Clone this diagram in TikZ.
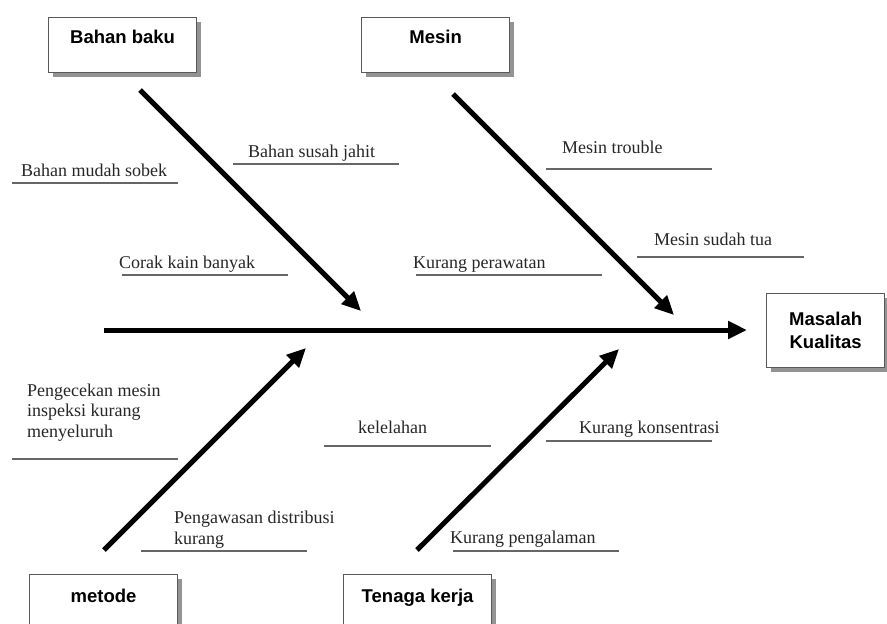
\documentclass[tikz,border=0pt]{standalone}
\usepackage{fontspec}
\setmainfont{Liberation Serif}
\setsansfont{Liberation Sans}
\usepackage{tikz}
\usetikzlibrary{arrows.meta,positioning,shadows}

\begin{document}
\begin{tikzpicture}[
  x=1pt, y=-1pt,
  >={Triangle[length=19pt,width=17pt]},
  causebox/.style={draw=black!65, line width=1.2pt, fill=white, anchor=north west,
    inner xsep=0pt, inner ysep=13pt, text height=13pt, text depth=16pt,
    minimum width=148pt, align=center, font=\sffamily\bfseries\fontsize{18.5}{22}\selectfont,
    drop shadow={shadow xshift=4pt, shadow yshift=-4pt, fill=gray!85, opacity=1}},
  lowbox/.style={causebox, inner ysep=15pt, text depth=17pt},
  effectbox/.style={draw=black!65, line width=1.2pt, fill=white, anchor=north west,
    minimum width=118pt, minimum height=74pt, align=center, inner sep=0pt,
    font=\sffamily\bfseries\fontsize{18.5}{23}\selectfont,
    drop shadow={shadow xshift=4pt, shadow yshift=-4pt, fill=gray!85, opacity=1}},
  bone/.style={->, line width=5pt},
  cue/.style={anchor=base west, inner sep=0pt, align=left, text=black!85,
    font=\fontsize{18}{20.5}\selectfont},
  cueline/.style={draw=black!60, line width=1.5pt}
]
\clip (0,0) rectangle (887,624);

% categories and effect
\node[causebox] (bahan) at (48,17) {Bahan baku};
\node[causebox] (mesin) at (361,17) {Mesin};
\node[lowbox] (metode) at (29,574) {metode};
\node[lowbox] (tenaga) at (343,574) {Tenaga kerja};
\node[effectbox] (masalah) at (766,293) {Masalah\\Kualitas};

% bones
\coordinate (spineA) at (104,330);
\coordinate (spineB) at (747,330);
\coordinate (bahanA) at (140,90);
\coordinate (bahanB) at (361,311);
\coordinate (mesinA) at (453,94);
\coordinate (mesinB) at (674,315);
\coordinate (metodeA) at (104,550);
\coordinate (metodeB) at (306,348);
\coordinate (tenagaA) at (417,550);
\coordinate (tenagaB) at (619,349);

\draw[bone] (spineA) -- (spineB);
\draw[bone] (bahanA) -- (bahanB);
\draw[bone] (mesinA) -- (mesinB);
\draw[bone] (metodeA) -- (metodeB);
\draw[bone] (tenagaA) -- (tenagaB);

% causes
\node[cue] (sobek) at (21,176) {Bahan mudah sobek};
\draw[cueline] (12,183) -- (178,183);
\node[cue] (jahit) at (248,157) {Bahan susah jahit};
\draw[cueline] (233,164) -- (399,164);
\node[cue] (corak) at (119,268) {Corak kain banyak};
\draw[cueline] (122,275) -- (288,275);

\node[cue] (rawat) at (413,268) {Kurang perawatan};
\draw[cueline] (416,275) -- (602,275);
\node[cue] (trouble) at (562,153) {Mesin trouble};
\draw[cueline] (546,169) -- (712,169);
\node[cue] (tua) at (654,245) {Mesin sudah tua};
\draw[cueline] (637,257) -- (804,257);

% multi-line: base is the last line
\node[cue] (cek) at (27,437) {Pengecekan mesin\\inspeksi kurang\\menyeluruh};
\draw[cueline] (12,459) -- (178,459);
\node[cue] (awas) at (174,544) {Pengawasan distribusi\\kurang};
\draw[cueline] (141,551) -- (307,551);

\node[cue] (lelah) at (358,433) {kelelahan};
\draw[cueline] (324,446) -- (491,446);
\node[cue] (konsen) at (579,433) {Kurang konsentrasi};
\draw[cueline] (546,441) -- (712,441);
\node[cue] (alaman) at (450,543) {Kurang pengalaman};
\draw[cueline] (453,551) -- (619,551);
\end{tikzpicture}
\end{document}
